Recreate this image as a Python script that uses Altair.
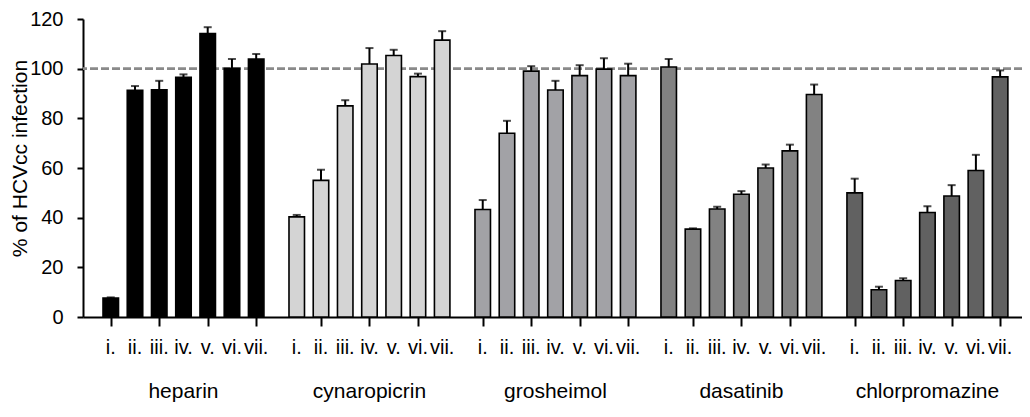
import altair as alt
import pandas as pd

groups = ["heparin", "cynaropicrin", "grosheimol", "dasatinib", "chlorpromazine"]
roman = ["i.", "ii.", "iii.", "iv.", "v.", "vi.", "vii."]
colors = ["#000000", "#d4d4d4", "#a2a2a6", "#828282", "#616161"]

heparin = [7.6, 91.3, 91.5, 96.5, 114.1, 100.1, 103.9]
heparin_err = [0.3, 1.7, 3.6, 1.2, 2.6, 3.8, 2.0]
cynaropicrin = [40.3, 55.0, 85.0, 101.9, 105.3, 96.8, 111.5]
cynaropicrin_err = [0.8, 4.3, 2.3, 6.4, 2.3, 1.2, 3.6]
grosheimol = [43.3, 74.0, 99.0, 91.4, 97.2, 99.8, 97.2]
grosheimol_err = [3.8, 5.0, 2.0, 3.7, 4.2, 4.4, 4.8]
dasatinib = [100.7, 35.4, 43.5, 49.4, 60.0, 66.9, 89.6]
dasatinib_err = [3.2, 0.3, 0.9, 1.3, 1.4, 2.5, 4.0]
chlorpromazine = [50.0, 11.0, 14.7, 42.1, 48.7, 59.0, 96.7]
chlorpromazine_err = [5.7, 1.2, 0.9, 2.5, 4.4, 6.3, 2.6]

values = [heparin, cynaropicrin, grosheimol, dasatinib, chlorpromazine]
errors = [heparin_err, cynaropicrin_err, grosheimol_err, dasatinib_err, chlorpromazine_err]

PERIOD = 7.673  # group spacing in bar steps (7 bars + gap)
rows = []
for g, name in enumerate(groups):
    for j, lab in enumerate(roman):
        v = values[g][j]
        e = errors[g][j]
        rows.append({"group": name, "label": lab, "pos": g * PERIOD + j,
                     "value": v, "top": v + e})
df = pd.DataFrame(rows)
gdf = df.groupby("group", sort=False)["pos"].mean().reset_index()

W, H = 939, 298
FONT = "Liberation Sans"

xscale = alt.Scale(domain=[-0.9388, 37.388], nice=False, zero=False)
yscale = alt.Scale(domain=[0, 120], nice=False)

base = alt.Chart(df)

ref = alt.Chart(pd.DataFrame({"y": [100]})).mark_rule(
    color="#8a8a8a", strokeWidth=2.6, strokeDash=[8, 3]
).encode(y=alt.Y("y:Q", scale=yscale))

bars = base.mark_bar(size=15.5, stroke="#000000", strokeWidth=1.6).encode(
    x=alt.X("pos:Q", scale=xscale,
            axis=alt.Axis(values=df["pos"].tolist(), labels=False, title=None,
                          grid=False, tickSize=9, tickWidth=2, tickColor="#000",
                          domainColor="#000", domainWidth=2)),
    y=alt.Y("value:Q", scale=yscale,
            axis=alt.Axis(values=[0, 20, 40, 60, 80, 100, 120], grid=False,
                          tickSize=6, tickWidth=2, tickColor="#000",
                          domainColor="#000", domainWidth=2,
                          labelFont=FONT, labelFontSize=20, labelColor="#000",
                          labelPadding=14,
                          title="% of HCVcc infection", titleFont=FONT,
                          titleFontSize=21, titleFontWeight="normal",
                          titleColor="#000", titleX=-57, titleY=139,
                          titleBaseline="alphabetic", titleAlign="center", titleAngle=270)),
    color=alt.Color("group:N", scale=alt.Scale(domain=groups, range=colors), legend=None),
)

err = base.mark_rule(color="#000", strokeWidth=2).encode(
    x=alt.X("pos:Q", scale=xscale), y="value:Q", y2="top:Q"
)
caps = base.mark_tick(color="#000", orient="horizontal", size=8, thickness=2).encode(
    x=alt.X("pos:Q", scale=xscale), y=alt.Y("top:Q", scale=yscale)
)

romans = base.mark_text(font=FONT, fontSize=20, color="#000", baseline="alphabetic").encode(
    x=alt.X("pos:Q", scale=xscale), y=alt.value(H + 37), text="label:N"
)
gnames = alt.Chart(gdf).mark_text(font=FONT, fontSize=21, color="#000", baseline="alphabetic").encode(
    x=alt.X("pos:Q", scale=xscale), y=alt.value(H + 81), text="group:N"
)

chart = alt.layer(ref, bars, err, caps, romans, gnames).properties(
    width=W, height=H,
    autosize=alt.AutoSizeParams(type="none"),
    padding={"left": 75, "top": 11, "right": 0, "bottom": 86},
).configure_view(stroke=None)

chart.save("out.html", embed_options={"renderer": "svg", "actions": False})
